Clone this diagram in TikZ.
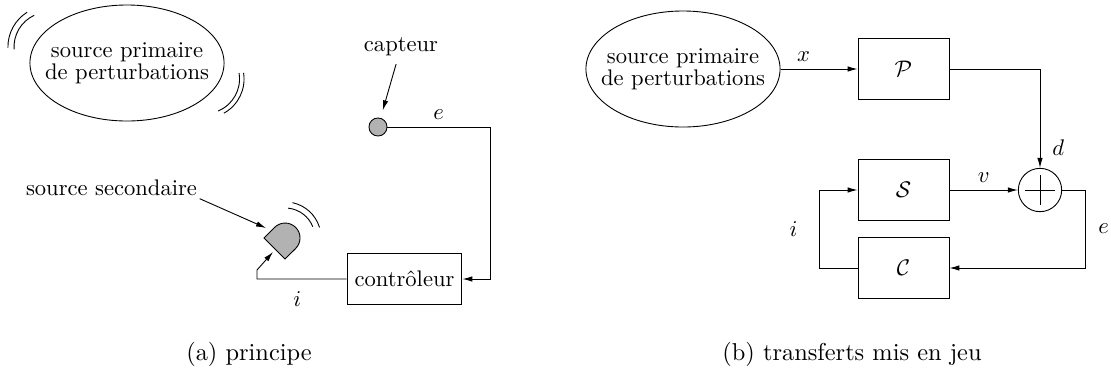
\documentclass[tikz,border=0pt]{standalone}
\usetikzlibrary{shapes.geometric, arrows.meta}
\tikzset{
>={Latex[length=4.4pt, width=2.4pt]}, % narrow filled arrow heads
x=0.443pt, y=-0.443pt, % coordinates are given in pixels, y pointing down
box/.style={draw, minimum width=40.3pt, minimum height=27pt}, % blocks P, S and C
src/.style={draw, ellipse, minimum width=86pt, minimum height=51.4pt}, % primary source
srctext/.style={align=center, font=\linespread{0.8}\selectfont}, % text inside the source
grayfill/.style={draw, fill=gray!60}, % sensor and loudspeaker
caption/.style={font=\fontsize{10.8}{13}\selectfont}, % sub-figure captions
}
\begin{document}
\begin{tikzpicture}
\useasboundingbox (0,0) rectangle (1111,372);

% (a) principe
\node[src, label={[srctext]center:source primaire\\de perturbations}] at (127,63) (src1) {};
\coordinate (w1) at (49,47);
\coordinate (w2) at (205,79);
\draw ([shift={(181:18.2pt)}]w1) arc[start angle=181, end angle=122, radius=18.2pt];
\draw ([shift={(184:15.5pt)}]w1) arc[start angle=184, end angle=115, radius=15.5pt];
\draw ([shift={(9:17.3pt)}]w2) arc[start angle=9, end angle=-61, radius=17.3pt];
\draw ([shift={(10:15.3pt)}]w2) arc[start angle=10, end angle=-68, radius=15.3pt];

\node at (401,47) (capteur) {capteur};
\node[circle, grayfill, minimum size=8pt, inner sep=0pt] at (378,127) (sensor) {};
\node[draw, minimum width=50pt, minimum height=22.6pt] at (404.5,279) (ctrl) {contrôleur};
\node[inner sep=1pt] at (111.5,188) (sec) {source secondaire};

\coordinate (hpc) at (285,238); % loudspeaker
\coordinate (hpin) at (266,228);
\coordinate (hpbase) at (273,252);
\coordinate (c1) at (490,127);
\coordinate (i1) at (257,279);
\coordinate (i2) at (257,270);
\draw[grayfill] (264,238) -- (274.6,227.4) arc[start angle=135, end angle=-45, radius=6.6pt] -- (285,259) -- cycle;
\draw ([shift={(84:13.3pt)}]hpc) arc[start angle=84, end angle=22, radius=13.3pt];
\draw ([shift={(78:16pt)}]hpc) arc[start angle=78, end angle=17, radius=16pt];

\draw[->, shorten >=3.5pt] (capteur) -- (sensor);
\draw[->] (sec.south east) -- (hpin);
\draw[->] (sensor) -- node[above]{$e$} (c1) |- (ctrl);
\draw[->] (ctrl.west) -- node[below=2pt, pos=0.55]{$i$} (i1) -- (i2) -- (hpbase);

\node[caption] at (249,354) (capa) {(a) principe};

% (b) transferts mis en jeu
\node[src, label={[srctext]center:source primaire\\de perturbations}] at (683,69) (src2) {};
\node[box] at (903.5,69) (P) {$\mathcal{P}$};
\node[box] at (903.5,190) (S) {$\mathcal{S}$};
\node[box] at (903.5,268) (C) {$\mathcal{C}$};
\node[circle, draw, minimum size=19.2pt, inner sep=0pt] at (1040,190) (sum) {};
\draw (sum.center) +(-15,0) -- +(15,0) +(0,-15) -- +(0,15);
\coordinate (ec) at (1085,190);
\coordinate (ic) at (819,268);

\draw[->] (src2) -- node[above, pos=0.3]{$x$} (P);
\draw[->] (P) -| node[right=2pt, pos=0.9]{$d$} (sum);
\draw[->] (S) -- node[above]{$v$} (sum);
\draw[->] (sum) -- (ec) |- node[right=2.4pt, pos=0.25]{$e$} (C);
\draw[->] (C) -- (ic) |- node[left=6pt, pos=0.25]{$i$} (S);

\node[caption] at (852,354) (capb) {(b) transferts mis en jeu};
\end{tikzpicture}
\end{document}
